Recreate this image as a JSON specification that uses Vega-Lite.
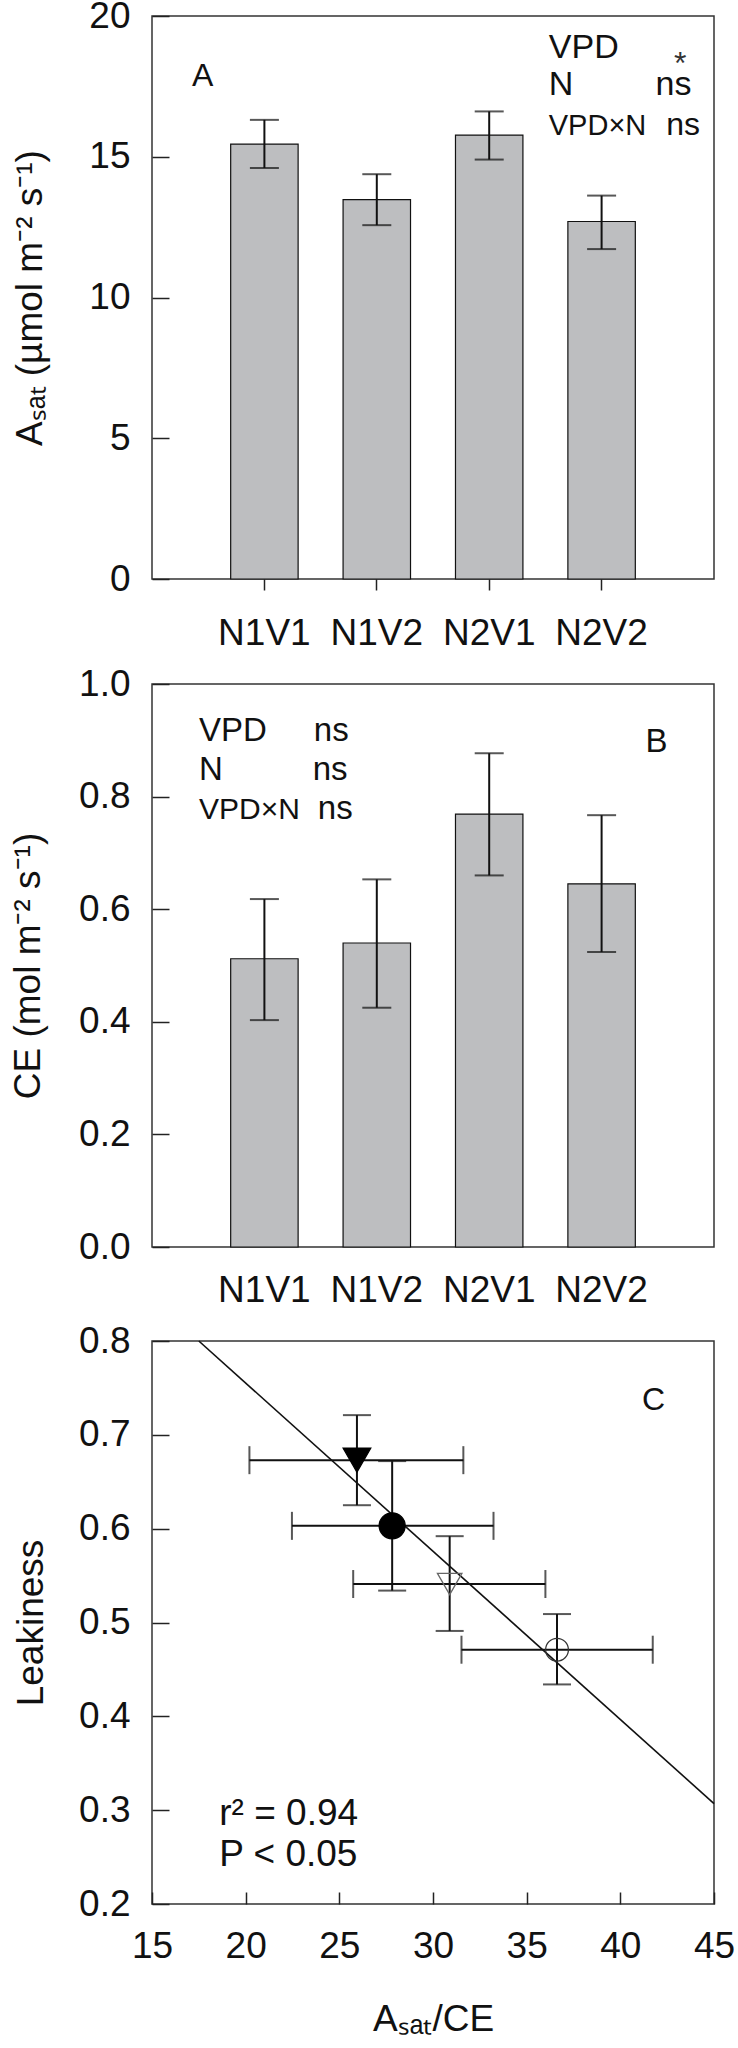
{
  "$schema": "https://vega.github.io/schema/vega-lite/v6.json",
  "padding": {"left": 8, "top": -4, "right": 0, "bottom": 0},
  "spacing": 12,
  "config": {
    "font": "Liberation Sans",
    "view": {"stroke": "#333", "strokeWidth": 1.5},
    "axis": {"labelFontSize": 37, "titleFontSize": 37, "labelColor": "#111", "titleColor": "#111", "titleFontWeight": "normal", "grid": false, "domain": false, "tickColor": "#222", "tickWidth": 1.5}
  },
  "datasets": {
    "asat": [
      {"trt": "N1V1", "asat": 15.45, "lo": 14.60, "hi": 16.31},
      {"trt": "N1V2", "asat": 13.48, "lo": 12.57, "hi": 14.38},
      {"trt": "N2V1", "asat": 15.77, "lo": 14.90, "hi": 16.61},
      {"trt": "N2V2", "asat": 12.70, "lo": 11.72, "hi": 13.62}
    ],
    "ce": [
      {"trt": "N1V1", "ce": 0.512, "lo": 0.403, "hi": 0.618},
      {"trt": "N1V2", "ce": 0.540, "lo": 0.425, "hi": 0.653},
      {"trt": "N2V1", "ce": 0.769, "lo": 0.660, "hi": 0.877},
      {"trt": "N2V2", "ce": 0.645, "lo": 0.524, "hi": 0.767}
    ],
    "leak": [
      {"trt": "T1", "ratio": 25.94, "leak": 0.673, "xlo": 20.2, "xhi": 31.62, "ylo": 0.625, "yhi": 0.721},
      {"trt": "T2", "ratio": 27.82, "leak": 0.603, "xlo": 22.47, "xhi": 33.23, "ylo": 0.534, "yhi": 0.672},
      {"trt": "T3", "ratio": 30.89, "leak": 0.541, "xlo": 25.74, "xhi": 36.0, "ylo": 0.491, "yhi": 0.592},
      {"trt": "T4", "ratio": 36.62, "leak": 0.471, "xlo": 31.52, "xhi": 41.73, "ylo": 0.434, "yhi": 0.509}
    ],
    "fit": [
      {"ratio": 17.5, "leak": 0.8},
      {"ratio": 45, "leak": 0.307}
    ]
  },
  "vconcat": [
    {
      "width": 562, "height": 563,
      "resolve": {"scale": {"x": "independent"}, "axis": {"x": "independent"}},
      "layer": [
        {
          "data": {"name": "asat"},
          "encoding": {"x": {"field": "trt", "type": "nominal", "sort": null, "scale": {"paddingInner": 0.4, "paddingOuter": 0.7}, "axis": {"title": null, "labelAngle": 0, "tickSize": 11, "labelPadding": 25}}},
          "layer": [
            {"mark": {"type": "bar", "fill": "#bdbec0", "stroke": "#111", "strokeWidth": 1.2},
             "encoding": {"y": {"field": "asat", "type": "quantitative", "scale": {"domain": [0, 20], "nice": false}, "axis": {"title": "Aₛₐₜ (µmol m⁻² s⁻¹)", "values": [0, 5, 10, 15, 20], "tickSize": -17, "labelPadding": 39, "titleX": -122, "titleBaseline": "middle"}}}},
            {"mark": {"type": "rule", "stroke": "#111", "strokeWidth": 2},
             "encoding": {"y": {"field": "lo", "type": "quantitative"}, "y2": {"field": "hi"}}},
            {"mark": {"type": "tick", "orient": "horizontal", "size": 29, "thickness": 2, "color": "#111"},
             "encoding": {"y": {"field": "lo", "type": "quantitative"}}},
            {"mark": {"type": "tick", "orient": "horizontal", "size": 29, "thickness": 2, "color": "#111"},
             "encoding": {"y": {"field": "hi", "type": "quantitative"}}}
          ]
        },
        {
          "data": {"values": [{}]},
          "layer": [
            {"mark": {"type": "text", "align": "left", "baseline": "alphabetic", "fontSize": 32, "color": "#111"},
             "encoding": {"x": {"datum": 0.071, "type": "quantitative", "scale": {"domain": [0, 1], "nice": false}, "axis": null}, "y": {"datum": 17.52, "type": "quantitative"}, "text": {"value": "A"}}},
            {"mark": {"type": "text", "align": "left", "baseline": "alphabetic", "fontSize": 34, "color": "#111"},
             "encoding": {"x": {"datum": 0.706, "type": "quantitative", "scale": {"domain": [0, 1], "nice": false}, "axis": null}, "y": {"datum": 18.51, "type": "quantitative"}, "text": {"value": "VPD"}}},
            {"mark": {"type": "text", "align": "center", "baseline": "alphabetic", "fontSize": 32, "color": "#333"},
             "encoding": {"x": {"datum": 0.94, "type": "quantitative", "scale": {"domain": [0, 1], "nice": false}, "axis": null}, "y": {"datum": 17.95, "type": "quantitative"}, "text": {"value": "*"}}},
            {"mark": {"type": "text", "align": "left", "baseline": "alphabetic", "fontSize": 34, "color": "#111"},
             "encoding": {"x": {"datum": 0.706, "type": "quantitative", "scale": {"domain": [0, 1], "nice": false}, "axis": null}, "y": {"datum": 17.2, "type": "quantitative"}, "text": {"value": "N"}}},
            {"mark": {"type": "text", "align": "right", "baseline": "alphabetic", "fontSize": 34, "color": "#111"},
             "encoding": {"x": {"datum": 0.96, "type": "quantitative", "scale": {"domain": [0, 1], "nice": false}, "axis": null}, "y": {"datum": 17.2, "type": "quantitative"}, "text": {"value": "ns"}}},
            {"mark": {"type": "text", "align": "left", "baseline": "alphabetic", "fontSize": 29, "color": "#111"},
             "encoding": {"x": {"datum": 0.706, "type": "quantitative", "scale": {"domain": [0, 1], "nice": false}, "axis": null}, "y": {"datum": 15.78, "type": "quantitative"}, "text": {"value": "VPD×N"}}},
            {"mark": {"type": "text", "align": "right", "baseline": "alphabetic", "fontSize": 32, "color": "#111"},
             "encoding": {"x": {"datum": 0.975, "type": "quantitative", "scale": {"domain": [0, 1], "nice": false}, "axis": null}, "y": {"datum": 15.78, "type": "quantitative"}, "text": {"value": "ns"}}}
          ]
        }
      ]
    },
    {
      "width": 562, "height": 563,
      "resolve": {"scale": {"x": "independent"}, "axis": {"x": "independent"}},
      "layer": [
        {
          "data": {"name": "ce"},
          "encoding": {"x": {"field": "trt", "type": "nominal", "sort": null, "scale": {"paddingInner": 0.4, "paddingOuter": 0.7}, "axis": {"title": null, "labelAngle": 0, "ticks": false, "labelPadding": 25}}},
          "layer": [
            {"mark": {"type": "bar", "fill": "#bdbec0", "stroke": "#111", "strokeWidth": 1.2},
             "encoding": {"y": {"field": "ce", "type": "quantitative", "scale": {"domain": [0, 1], "nice": false}, "axis": {"title": "CE (mol m⁻² s⁻¹)", "values": [0, 0.2, 0.4, 0.6, 0.8, 1.0], "format": ".1f", "tickSize": -17, "labelPadding": 39, "titleX": -124, "titleBaseline": "middle"}}}},
            {"mark": {"type": "rule", "stroke": "#111", "strokeWidth": 2},
             "encoding": {"y": {"field": "lo", "type": "quantitative"}, "y2": {"field": "hi"}}},
            {"mark": {"type": "tick", "orient": "horizontal", "size": 29, "thickness": 2, "color": "#111"},
             "encoding": {"y": {"field": "lo", "type": "quantitative"}}},
            {"mark": {"type": "tick", "orient": "horizontal", "size": 29, "thickness": 2, "color": "#111"},
             "encoding": {"y": {"field": "hi", "type": "quantitative"}}}
          ]
        },
        {
          "data": {"values": [{}]},
          "layer": [
            {"mark": {"type": "text", "align": "left", "baseline": "alphabetic", "fontSize": 33, "color": "#111"},
             "encoding": {"x": {"datum": 0.0836, "type": "quantitative", "scale": {"domain": [0, 1], "nice": false}, "axis": null}, "y": {"datum": 0.899, "type": "quantitative"}, "text": {"value": "VPD"}}},
            {"mark": {"type": "text", "align": "left", "baseline": "alphabetic", "fontSize": 33, "color": "#111"},
             "encoding": {"x": {"datum": 0.288, "type": "quantitative", "scale": {"domain": [0, 1], "nice": false}, "axis": null}, "y": {"datum": 0.899, "type": "quantitative"}, "text": {"value": "ns"}}},
            {"mark": {"type": "text", "align": "left", "baseline": "alphabetic", "fontSize": 33, "color": "#111"},
             "encoding": {"x": {"datum": 0.0836, "type": "quantitative", "scale": {"domain": [0, 1], "nice": false}, "axis": null}, "y": {"datum": 0.830, "type": "quantitative"}, "text": {"value": "N"}}},
            {"mark": {"type": "text", "align": "left", "baseline": "alphabetic", "fontSize": 33, "color": "#111"},
             "encoding": {"x": {"datum": 0.286, "type": "quantitative", "scale": {"domain": [0, 1], "nice": false}, "axis": null}, "y": {"datum": 0.830, "type": "quantitative"}, "text": {"value": "ns"}}},
            {"mark": {"type": "text", "align": "left", "baseline": "alphabetic", "fontSize": 30, "color": "#111"},
             "encoding": {"x": {"datum": 0.0836, "type": "quantitative", "scale": {"domain": [0, 1], "nice": false}, "axis": null}, "y": {"datum": 0.761, "type": "quantitative"}, "text": {"value": "VPD×N"}}},
            {"mark": {"type": "text", "align": "left", "baseline": "alphabetic", "fontSize": 33, "color": "#111"},
             "encoding": {"x": {"datum": 0.295, "type": "quantitative", "scale": {"domain": [0, 1], "nice": false}, "axis": null}, "y": {"datum": 0.761, "type": "quantitative"}, "text": {"value": "ns"}}},
            {"mark": {"type": "text", "align": "left", "baseline": "alphabetic", "fontSize": 33, "color": "#111"},
             "encoding": {"x": {"datum": 0.878, "type": "quantitative", "scale": {"domain": [0, 1], "nice": false}, "axis": null}, "y": {"datum": 0.880, "type": "quantitative"}, "text": {"value": "B"}}}
          ]
        }
      ]
    },
    {
      "width": 562, "height": 563,
      "layer": [
        {"data": {"name": "fit"}, "mark": {"type": "line", "color": "#111", "strokeWidth": 1.6},
         "encoding": {
           "x": {"field": "ratio", "type": "quantitative", "scale": {"domain": [15, 45], "nice": false}, "axis": {"title": "Aₛₐₜ/CE", "values": [15, 20, 25, 30, 35, 40, 45], "tickSize": -12, "labelPadding": 36, "labelFlush": false, "titleY": 97, "titleBaseline": "top"}},
           "y": {"field": "leak", "type": "quantitative", "scale": {"domain": [0.2, 0.8], "nice": false}, "axis": {"title": "Leakiness", "values": [0.2, 0.3, 0.4, 0.5, 0.6, 0.7, 0.8], "format": ".1f", "tickSize": -17, "labelPadding": 39, "titleX": -121, "titleBaseline": "middle"}}
         }},
        {"data": {"name": "leak"}, "mark": {"type": "rule", "color": "#111", "strokeWidth": 2},
         "encoding": {"x": {"field": "xlo", "type": "quantitative"}, "x2": {"field": "xhi"}, "y": {"field": "leak", "type": "quantitative"}}},
        {"data": {"name": "leak"}, "mark": {"type": "rule", "color": "#111", "strokeWidth": 2},
         "encoding": {"x": {"field": "ratio", "type": "quantitative"}, "y": {"field": "ylo", "type": "quantitative"}, "y2": {"field": "yhi"}}},
        {"data": {"name": "leak"}, "mark": {"type": "tick", "orient": "vertical", "size": 28, "thickness": 2, "color": "#111"},
         "encoding": {"x": {"field": "xlo", "type": "quantitative"}, "y": {"field": "leak", "type": "quantitative"}}},
        {"data": {"name": "leak"}, "mark": {"type": "tick", "orient": "vertical", "size": 28, "thickness": 2, "color": "#111"},
         "encoding": {"x": {"field": "xhi", "type": "quantitative"}, "y": {"field": "leak", "type": "quantitative"}}},
        {"data": {"name": "leak"}, "mark": {"type": "tick", "orient": "horizontal", "size": 28, "thickness": 2, "color": "#111"},
         "encoding": {"x": {"field": "ratio", "type": "quantitative"}, "y": {"field": "ylo", "type": "quantitative"}}},
        {"data": {"name": "leak"}, "mark": {"type": "tick", "orient": "horizontal", "size": 28, "thickness": 2, "color": "#111"},
         "encoding": {"x": {"field": "ratio", "type": "quantitative"}, "y": {"field": "yhi", "type": "quantitative"}}},
        {"data": {"name": "leak"}, "mark": {"type": "point", "opacity": 1, "strokeWidth": 1.3},
         "encoding": {
           "x": {"field": "ratio", "type": "quantitative"},
           "y": {"field": "leak", "type": "quantitative"},
           "shape": {"field": "trt", "type": "nominal", "scale": {"domain": ["T1", "T2", "T3", "T4"], "range": ["triangle-down", "circle", "triangle-down", "circle"]}, "legend": null},
           "size": {"field": "trt", "type": "ordinal", "scale": {"domain": ["T1", "T2", "T3", "T4"], "range": [760, 520, 760, 520]}, "legend": null},
           "fill": {"field": "trt", "type": "nominal", "scale": {"domain": ["T1", "T2", "T3", "T4"], "range": ["#000000", "#000000", "transparent", "transparent"]}, "legend": null},
           "stroke": {"field": "trt", "type": "nominal", "scale": {"domain": ["T1", "T2", "T3", "T4"], "range": ["#000000", "#000000", "#666666", "#333333"]}, "legend": null}
         }},
        {"data": {"values": [{}]}, "mark": {"type": "text", "align": "left", "baseline": "alphabetic", "fontSize": 32, "color": "#111"},
         "encoding": {"x": {"datum": 41.16, "type": "quantitative"}, "y": {"datum": 0.726, "type": "quantitative"}, "text": {"value": "C"}}},
        {"data": {"values": [{}]}, "mark": {"type": "text", "align": "left", "baseline": "alphabetic", "fontSize": 37, "color": "#111"},
         "encoding": {"x": {"datum": 18.59, "type": "quantitative"}, "y": {"datum": 0.2843, "type": "quantitative"}, "text": {"value": "r² = 0.94"}}},
        {"data": {"values": [{}]}, "mark": {"type": "text", "align": "left", "baseline": "alphabetic", "fontSize": 37, "color": "#111"},
         "encoding": {"x": {"datum": 18.59, "type": "quantitative"}, "y": {"datum": 0.2406, "type": "quantitative"}, "text": {"value": "P < 0.05"}}}
      ]
    }
  ]
}
